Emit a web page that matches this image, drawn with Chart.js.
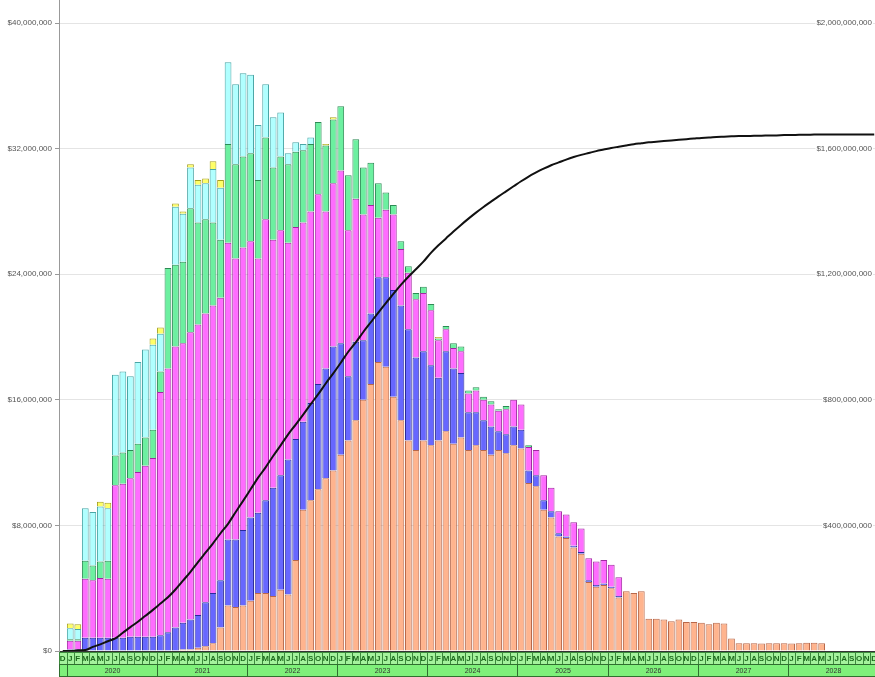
<!DOCTYPE html>
<html>
<head>
<meta charset="utf-8">
<script src="https://cdn.jsdelivr.net/npm/chart.js@4/dist/chart.umd.min.js"></script>
<style>
html, body { margin: 0; padding: 0; background: #fff; overflow: hidden; }
#wrap { width: 878px; height: 677px; }
</style>
</head>
<body>
<div id="wrap"><canvas id="graficoVendas" width="878" height="677"></canvas></div>
<script>
// months run from Dec 2019 to Dec 2028, values in $ millions
const monthLetters = ['J', 'F', 'M', 'A', 'M', 'J', 'J', 'A', 'S', 'O', 'N', 'D'];
const years = [2020, 2021, 2022, 2023, 2024, 2025, 2026, 2027, 2028];
const leftTicks = [0, 8, 16, 24, 32, 40];
const rightTicks = [400, 800, 1200, 1600, 2000];

const orange = [0,
    0, 0, 0, 0, 0, 0, 0, 0, 0, 0, 0, 0,
    0, 0, 0, 0.1, 0.1, 0.2, 0.3, 0.5, 1.5, 2.9, 2.8, 2.9,
    3.2, 3.7, 3.7, 3.5, 3.9, 3.6, 5.8, 9.0, 9.6, 10.3, 11.0, 11.5,
    12.5, 13.4, 14.7, 16.0, 17.0, 18.4, 18.1, 16.2, 14.7, 13.4, 12.8, 13.4,
    13.1, 13.4, 14.0, 13.2, 13.6, 12.8, 13.1, 12.8, 12.5, 12.8, 12.6, 13.1,
    12.9, 10.7, 10.5, 9.0, 8.5, 7.3, 7.2, 6.6, 6.2, 4.4, 4.1, 4.2,
    4.0, 3.4, 3.8, 3.7, 3.8, 2.05, 2.05, 2.0, 1.9, 2.0, 1.85, 1.85,
    1.8, 1.7, 1.8, 1.75, 0.8, 0.5, 0.5, 0.5, 0.48, 0.5, 0.5, 0.5,
    0.48, 0.5, 0.52, 0.52, 0.5, 0, 0, 0, 0, 0, 0, 0];
const blue = [0,
    0.1, 0.1, 0.85, 0.85, 0.85, 0.85, 0.85, 0.85, 0.9, 0.9, 0.9, 0.9,
    1.0, 1.2, 1.5, 1.7, 1.9, 2.1, 2.8, 3.2, 3.0, 4.2, 4.3, 4.8,
    5.3, 5.1, 5.9, 6.9, 7.3, 8.6, 7.7, 5.6, 6.2, 6.7, 7.0, 7.9,
    7.1, 4.1, 5.0, 3.8, 4.5, 5.4, 5.7, 6.8, 7.3, 7.1, 5.9, 5.7,
    5.1, 4.0, 5.1, 4.8, 4.1, 2.4, 2.1, 1.9, 1.8, 1.2, 1.2, 1.2,
    1.2, 0.8, 0.7, 0.6, 0.4, 0.2, 0.1, 0.1, 0.1, 0.1, 0.1, 0.1,
    0.1, 0.1, 0, 0, 0, 0, 0, 0, 0, 0, 0, 0,
    0, 0, 0, 0, 0, 0, 0, 0, 0, 0, 0, 0,
    0, 0, 0, 0, 0, 0, 0, 0, 0, 0, 0, 0];
const magenta = [0,
    0.55, 0.55, 3.75, 3.65, 3.8, 3.75, 9.7, 9.8, 10.1, 10.5, 10.9, 11.4,
    15.5, 16.8, 17.9, 17.8, 18.3, 18.5, 18.4, 18.3, 18.0, 18.9, 17.9, 18.0,
    17.6, 16.2, 17.9, 15.8, 15.6, 13.8, 13.5, 12.7, 12.2, 12.1, 10.0, 10.4,
    11.0, 9.3, 9.1, 8.0, 6.9, 3.8, 4.3, 4.8, 3.6, 3.6, 3.7, 3.7,
    3.5, 2.4, 1.4, 1.3, 1.4, 1.2, 1.4, 1.3, 1.4, 1.3, 1.6, 1.7,
    1.6, 1.5, 1.6, 1.6, 1.5, 1.4, 1.4, 1.5, 1.5, 1.4, 1.5, 1.5,
    1.4, 1.2, 0, 0, 0, 0, 0, 0, 0, 0, 0, 0,
    0, 0, 0, 0, 0, 0, 0, 0, 0, 0, 0, 0,
    0, 0, 0, 0, 0, 0, 0, 0, 0, 0, 0, 0];
const green = [0,
    0.1, 0.1, 1.15, 0.95, 1.05, 1.15, 1.9, 2.0, 1.8, 1.8, 1.8, 1.8,
    1.3, 6.4, 5.2, 5.2, 7.9, 6.5, 6.0, 5.3, 3.7, 6.3, 6.0, 5.8,
    5.6, 5.0, 5.2, 4.6, 4.7, 5.0, 4.8, 4.6, 4.3, 4.6, 4.2, 4.05,
    4.1, 3.5, 3.8, 3.0, 2.7, 2.2, 1.1, 0.6, 0.5, 0.4, 0.4, 0.4,
    0.4, 0.1, 0.2, 0.3, 0.3, 0.2, 0.2, 0.2, 0.2, 0.1, 0.2, 0,
    0, 0.1, 0, 0, 0, 0, 0, 0, 0, 0, 0, 0,
    0, 0, 0, 0, 0, 0, 0, 0, 0, 0, 0, 0,
    0, 0, 0, 0, 0, 0, 0, 0, 0, 0, 0, 0,
    0, 0, 0, 0, 0, 0, 0, 0, 0, 0, 0, 0];
const cyan = [0,
    0.7, 0.65, 3.35, 3.4, 3.5, 3.35, 5.15, 5.15, 4.7, 5.2, 5.6, 5.4,
    2.4, 0, 3.7, 3.05, 2.6, 2.4, 2.3, 3.4, 3.3, 5.2, 5.1, 5.3,
    5.0, 3.5, 3.4, 3.2, 2.8, 0.7, 0.6, 0.4, 0.4, 0, 0, 0,
    0, 0, 0, 0, 0, 0, 0, 0, 0, 0, 0, 0,
    0, 0, 0, 0, 0, 0, 0, 0, 0, 0, 0, 0,
    0, 0, 0, 0, 0, 0, 0, 0, 0, 0, 0, 0,
    0, 0, 0, 0, 0, 0, 0, 0, 0, 0, 0, 0,
    0, 0, 0, 0, 0, 0, 0, 0, 0, 0, 0, 0,
    0, 0, 0, 0, 0, 0, 0, 0, 0, 0, 0, 0];
const yellow = [0,
    0.3, 0.3, 0, 0, 0.3, 0.35, 0, 0, 0, 0, 0, 0.4,
    0.4, 0, 0.2, 0.15, 0.2, 0.3, 0.3, 0.5, 0.5, 0, 0, 0,
    0, 0, 0, 0, 0, 0, 0, 0, 0, 0, 0.1, 0.15,
    0, 0, 0, 0, 0, 0, 0, 0, 0, 0, 0, 0,
    0, 0.1, 0, 0, 0, 0, 0, 0, 0, 0, 0, 0,
    0, 0, 0, 0, 0, 0, 0, 0, 0, 0, 0, 0,
    0, 0, 0, 0, 0, 0, 0, 0, 0, 0, 0, 0,
    0, 0, 0, 0, 0, 0, 0, 0, 0, 0, 0, 0,
    0, 0, 0, 0, 0, 0, 0, 0, 0, 0, 0, 0];
// cumulative total, right axis
const cumulative = [0,
    0, 2, 3, 13, 21, 31, 40, 58, 76, 93, 112, 131,
    151, 171, 196, 224, 252, 283, 313, 343, 375, 405, 442, 478,
    515, 552, 585, 621, 655, 690, 721, 753, 786, 818, 852, 884,
    918, 953, 983, 1016, 1047, 1078, 1108, 1137, 1166, 1192, 1216, 1240,
    1268, 1292, 1314, 1336, 1357, 1377, 1396, 1414, 1431, 1448, 1464, 1480,
    1496, 1511, 1524, 1536, 1547, 1556, 1565, 1573, 1580, 1586, 1592, 1597,
    1602, 1606, 1610, 1614, 1617, 1620, 1622, 1624, 1626, 1628, 1630, 1632,
    1634, 1635, 1637, 1638, 1639, 1640, 1640, 1641, 1641, 1642, 1642, 1643,
    1643, 1644, 1644, 1645, 1645, 1645, 1645, 1645, 1645, 1645, 1645, 1645];

const categories = ['2019-12'];
years.forEach(function (y) {
    monthLetters.forEach(function (m, k) {
        categories.push(y + '-' + String(k + 1).padStart(2, '0'));
    });
});

const dinheiro = function (v) {
    return '$' + Math.round(v * 1e6).toLocaleString('en-US');
};

function serie(label, data, fill, border) {
    return {
        type: 'bar',
        label: label,
        data: data.map(function (v) { return v === 0 ? null : v; }),
        backgroundColor: fill,
        borderColor: border,
        borderWidth: 1,
        barPercentage: 0.9,
        categoryPercentage: 1,
        yAxisID: 'y',
        order: 2
    };
}

// no label padding above/below the value axes: the plot runs to the top edge
function semPadding(scale) {
    scale.paddingTop = 0;
    scale.paddingBottom = 0;
}

// month letters and year boxes under the plot
const eixoTempo = {
    id: 'eixoTempo',
    afterDraw: function (chart) {
        const ctx = chart.ctx;
        const xs = chart.scales.x;
        const area = chart.chartArea;
        const w = (xs.right - xs.left) / categories.length;
        const top = area.bottom + 1;
        const rowH = 12;
        ctx.save();
        ctx.textAlign = 'center';
        ctx.textBaseline = 'middle';
        categories.forEach(function (c, i) {
            const cx = xs.getPixelForValue(i);
            const x0 = Math.round(cx - w / 2) + 0.5;
            const x1 = Math.round(cx + w / 2) + 0.5;
            ctx.fillStyle = '#a4f29c';
            ctx.fillRect(x0, top, x1 - x0, rowH);
            ctx.strokeStyle = '#3c8a3c';
            ctx.lineWidth = 1;
            ctx.strokeRect(x0, top + 0.5, x1 - x0, rowH);
            ctx.fillStyle = '#1e6b1e';
            ctx.font = 'bold 8px "Liberation Sans"';
            ctx.fillText(monthLetters[parseInt(c.slice(5), 10) - 1], cx, top + rowH / 2 + 1);
        });
        let start = 0;
        for (let i = 1; i <= categories.length; i++) {
            if (i === categories.length || categories[i].slice(0, 4) !== categories[start].slice(0, 4)) {
                const x0 = Math.round(xs.getPixelForValue(start) - w / 2) + 0.5;
                const x1 = Math.round(xs.getPixelForValue(i - 1) + w / 2) + 0.5;
                ctx.fillStyle = '#7ff07a';
                ctx.fillRect(x0, top + rowH, x1 - x0, rowH);
                ctx.strokeStyle = '#2f6f2f';
                ctx.strokeRect(x0, top + rowH + 0.5, x1 - x0, rowH);
                if (x1 - x0 > 30) {
                    ctx.fillStyle = '#333';
                    ctx.font = '7px "Liberation Sans"';
                    ctx.fillText(categories[start].slice(0, 4), (x0 + x1) / 2, top + rowH + rowH / 2 + 1);
                }
                start = i;
            }
        }
        ctx.restore();
    }
};

window.onload = function () {
    const ctx = document.getElementById('graficoVendas').getContext('2d');
    const graficoVendas = new Chart(ctx, {
        data: {
            labels: categories,
            datasets: [
                {
                    type: 'line',
                    label: 'Cumulative',
                    data: cumulative,
                    borderColor: '#111',
                    borderWidth: 2,
                    pointRadius: 0,
                    fill: false,
                    cubicInterpolationMode: 'monotone',
                    yAxisID: 'y2',
                    order: 1
                },
                serie('Orange', orange, '#ffb48e', '#b8684a'),
                serie('Blue', blue, '#6767ff', '#2a2a9a'),
                serie('Magenta', magenta, '#ff6cff', '#a02aa0'),
                serie('Green', green, '#6cf0a0', '#2d8a55'),
                serie('Cyan', cyan, '#b0ffff', '#4aa6a6'),
                serie('Yellow', yellow, '#ffff66', '#a6a020')
            ]
        },
        options: {
            responsive: false,
            animation: false,
            layout: { padding: 0 },
            plugins: {
                legend: { display: false },
                tooltip: { enabled: false }
            },
            scales: {
                x: {
                    stacked: true,
                    grid: { display: false },
                    ticks: { display: false },
                    border: { color: '#333', width: 1 },
                    afterFit: function (scale) { scale.height = 26; }
                },
                y: {
                    stacked: true,
                    position: 'left',
                    min: 0,
                    max: 41.465,
                    afterBuildTicks: function (scale) {
                        scale.ticks = leftTicks.map(function (v) { return { value: v }; });
                    },
                    afterFit: function (scale) {
                        scale.width = 59;
                        semPadding(scale);
                    },
                    grid: { color: '#e4e4e4', tickColor: '#999', tickLength: 4 },
                    border: { color: '#999' },
                    ticks: {
                        padding: 3,
                        color: '#555',
                        font: { family: 'Liberation Sans', size: 8 },
                        callback: dinheiro
                    }
                },
                y2: {
                    position: 'right',
                    min: 0,
                    max: 2073.25,
                    afterBuildTicks: function (scale) {
                        scale.ticks = rightTicks.map(function (v) { return { value: v }; });
                    },
                    afterFit: function (scale) {
                        scale.width = 0;
                        semPadding(scale);
                    },
                    grid: { display: false },
                    border: { display: false },
                    ticks: {
                        mirror: true,
                        padding: -6,
                        color: '#555',
                        showLabelBackdrop: true,
                        backdropColor: '#fff',
                        backdropPadding: 1,
                        font: { family: 'Liberation Sans', size: 8 },
                        callback: dinheiro
                    }
                }
            }
        },
        plugins: [eixoTempo]
    });
};
</script>
</body>
</html>
